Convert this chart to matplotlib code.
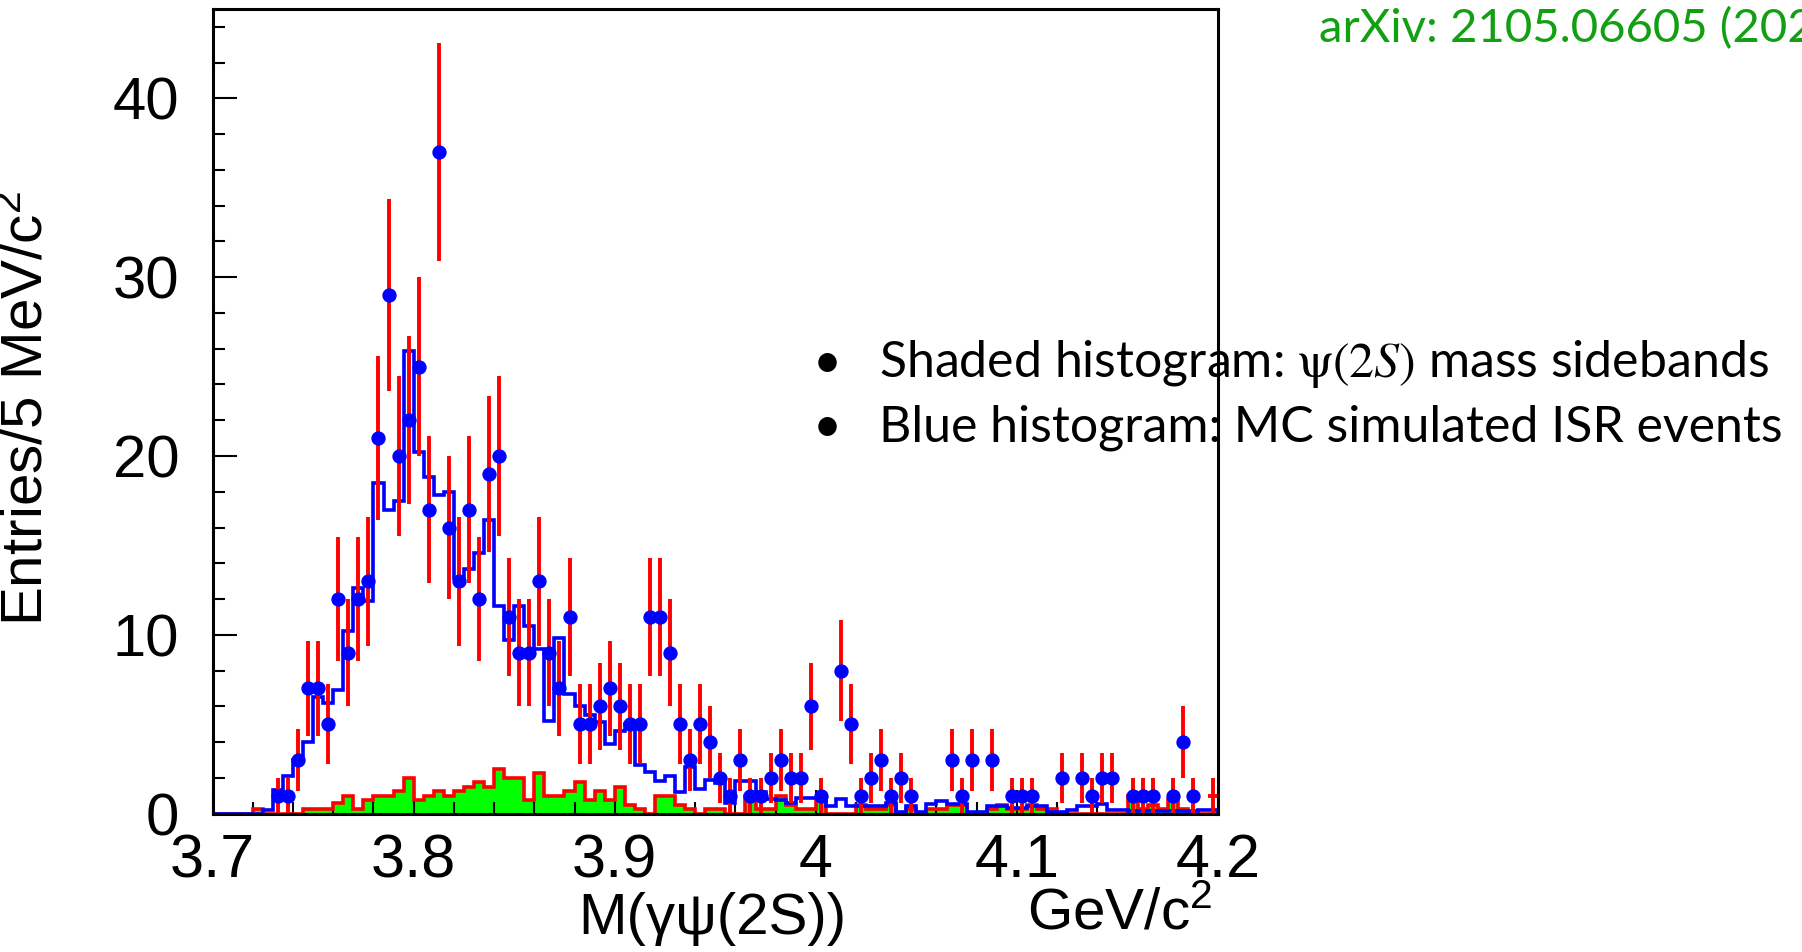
import numpy as np
import matplotlib
matplotlib.use("Agg")
import matplotlib.pyplot as plt
from matplotlib.ticker import MultipleLocator

# 5 MeV/c^2 bins, 3.70 - 4.20 GeV/c^2 (100 bins)
x_lo, x_hi, nbins = 3.70, 4.20, 100

# data counts per bin (bin 0 = 3.700-3.705)
data_counts = [0, 0, 0, 0, 0, 0, 1, 1, 3, 7,
               7, 5, 12, 9, 12, 13, 21, 29, 20, 22,
               25, 17, 37, 16, 13, 17, 12, 19, 20, 11,
               9, 9, 13, 9, 7, 11, 5, 5, 6, 7,
               6, 5, 5, 11, 11, 9, 5, 3, 5, 4,
               2, 1, 3, 1, 1, 2, 3, 2, 2, 6,
               1, 0, 8, 5, 1, 2, 3, 1, 2, 1,
               0, 0, 0, 3, 1, 3, 0, 3, 0, 1,
               1, 1, 0, 0, 2, 0, 2, 1, 2, 2,
               0, 1, 1, 1, 0, 1, 4, 1, 0, 1]

# MC simulated ISR events (blue histogram)
mc_isr = [0, 0, 0, 0, 0, 0.2, 1.3, 2.1, 3.0, 4.0,
          6.5, 6.2, 6.9, 10.2, 12.6, 11.9, 18.5, 17.0, 17.5, 25.9,
          20.2, 18.8, 17.8, 18.0, 13.2, 13.7, 14.6, 16.4, 11.6, 9.7,
          11.6, 10.5, 9.2, 5.2, 9.8, 6.7, 6.0, 5.5, 5.1, 3.9,
          4.6, 5.0, 2.7, 2.3, 1.8, 2.1, 1.2, 2.6, 1.4, 1.9,
          1.7, 0.6, 1.8, 1.8, 1.2, 0.8, 0.75, 0.57, 0.85, 0.85,
          0.85, 0.4, 0.8, 0.4, 0.45, 0.4, 0.4, 0.57, 0.1, 0.4,
          0.1, 0.55, 0.7, 0.55, 0.55, 0.1, 0.1, 0.4, 0.4, 0.3,
          0.3, 0.4, 0.4, 0.1, 0.1, 0.2, 0.4, 0.4, 0.55, 0.2,
          0.2, 0.15, 0.15, 0.15, 0.15, 0.15, 0.15, 0.15, 0.2, 0.2]

# psi(2S) mass sidebands (shaded histogram)
sideband = [0, 0, 0, 0, 0.25, 0, 0, 0, 0, 0.25,
            0.25, 0.25, 0.6, 1.0, 0.25, 0.75, 1.0, 1.0, 1.25, 2.0,
            0.75, 1.0, 1.25, 1.0, 1.25, 1.5, 1.75, 1.5, 2.5, 2.0,
            2.0, 0.75, 2.25, 1.0, 1.0, 1.25, 1.75, 0.75, 1.25, 0.75,
            1.5, 0.5, 0.25, 0, 1.0, 1.0, 0.5, 0.25, 0, 0.25,
            0.25, 0, 0, 1.0, 0.25, 0.25, 1.0, 0.5, 0.25, 0.25,
            0.75, 0, 0, 0, 0.5, 0.25, 0.25, 0.5, 0, 0.25,
            0, 0.25, 0.25, 0.5, 0.5, 0, 0, 0.25, 0.5, 0.25,
            0.25, 0.5, 0.25, 0.25, 0, 0, 0, 0, 0, 0,
            0, 1.0, 0.25, 0.5, 0.25, 0.75, 0.25, 0, 0, 0]

xtick_vals = [3.7, 3.8, 3.9, 4.0, 4.1, 4.2]
xtick_text = ["3.7", "3.8", "3.9", "4", "4.1", "4.2"]
ytick_vals = [0, 10, 20, 30, 40]
ytick_text = ["0", "10", "20", "30", "40"]

W, H = 1802, 952
plt.rcParams['font.family'] = ['Liberation Sans', 'DejaVu Sans']
plt.rcParams['mathtext.fontset'] = 'custom'
plt.rcParams['mathtext.rm'] = 'Liberation Sans'
plt.rcParams['mathtext.it'] = 'Liberation Sans:italic'

edges = np.linspace(x_lo, x_hi, nbins + 1)
centers = 0.5 * (edges[:-1] + edges[1:])
counts = np.array(data_counts, dtype=float)

fig = plt.figure(figsize=(W / 100, H / 100), dpi=100)
ax = fig.add_axes([212.6 / W, 1 - 813.6 / H, 1005.4 / W, 804.6 / H])

# sideband: green fill with red outline
ax.stairs(sideband, edges, fill=True, color='#00ff00', zorder=1)
ax.stairs(sideband, edges, color='red', lw=2.6, zorder=2)
# MC
ax.stairs(mc_isr, edges, color='blue', lw=2.6, zorder=3)

# data with sqrt(N) errors
has = counts > 0
ax.errorbar(centers[has], counts[has], yerr=np.sqrt(counts[has]),
            xerr=(x_hi - x_lo) / nbins / 2, fmt='none', ecolor='red',
            elinewidth=2.8, capsize=0, zorder=4)
dots = has & (centers < x_hi - 0.004)
ax.plot(centers[dots], counts[dots], 'o', color='blue', ms=9.3, zorder=5)

ax.set_xlim(x_lo, x_hi)
ax.set_ylim(0, 45)
ax.set_xticks(xtick_vals)
ax.set_xticklabels(xtick_text)
ax.set_yticks(ytick_vals)
ax.set_yticklabels(ytick_text)
ax.xaxis.set_minor_locator(MultipleLocator(0.02))
ax.yaxis.set_minor_locator(MultipleLocator(2))
ax.tick_params(which='both', direction='in', top=False, right=False, width=1.5, color='black')
ax.tick_params(which='major', length=17)
ax.tick_params(which='minor', length=8.5)
ax.tick_params(axis='x', labelsize=44, pad=14)
ax.tick_params(axis='y', labelsize=43, pad=24)
for s in ax.spines.values():
    s.set_linewidth(2.2)
    s.set_zorder(6)

ax.set_ylabel("Entries/5 MeV/c$^{2}$", fontsize=42)
ax.yaxis.set_label_coords((55 - 212.6) / 1005.4, 0.504)
ax.text((712 - 212.6) / 1005.4, (813.6 - 919) / 804.6, "M(γψ(2S))",
        transform=ax.transAxes, ha='center', va='center', fontsize=42)
ax.text((1120 - 212.6) / 1005.4, (813.6 - 915) / 804.6, "GeV/c$^{2}$",
        transform=ax.transAxes, ha='center', va='center', fontsize=42)

# notes on the right
note_font = ['Lato', 'DejaVu Sans']
fig.text(1319 / W, 1 - 29 / H, "arXiv: 2105.06605 (2021)", color='#12a012',
         fontsize=34, family=note_font, ha='left', va='center')
notes = [r"Shaded histogram: $\mathrm{\psi}(2S)$ mass sidebands",
         "Blue histogram: MC simulated ISR events"]
for k, txt in enumerate(notes):
    yy = 1 - (364 + 64 * k) / H
    fig.text(827 / W, yy, "•", fontsize=36, family=note_font, ha='center', va='center')
    fig.text(879 / W, yy, txt, fontsize=36, family=note_font, ha='left', va='center',
             math_fontfamily='stix')

fig.savefig("out.png", dpi=100)
